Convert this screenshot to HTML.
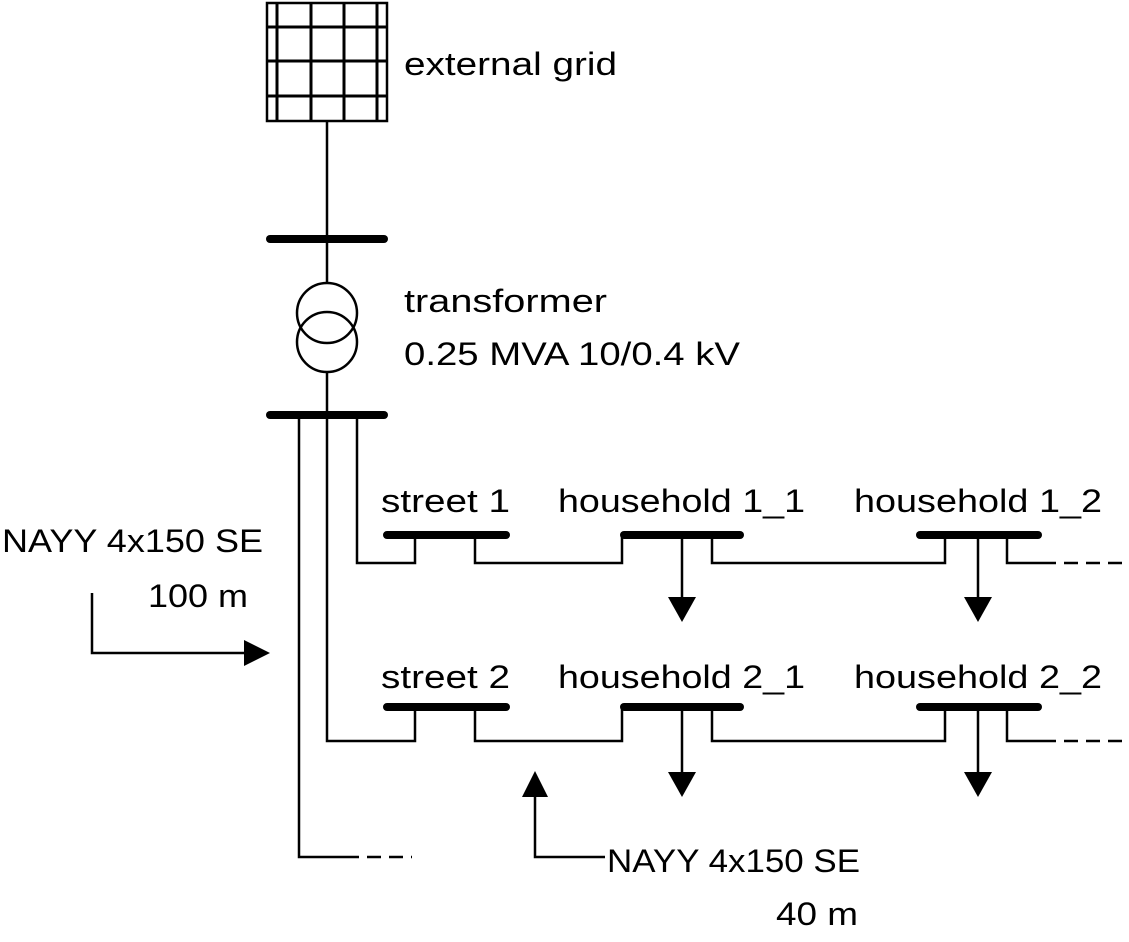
<!DOCTYPE html>
<html><head><meta charset="utf-8"><style>html,body{margin:0;padding:0;background:#fff}svg{display:block}</style></head>
<body>
<svg width="1129" height="942" viewBox="0 0 1129 942" xmlns="http://www.w3.org/2000/svg" font-family="Liberation Sans, sans-serif" font-size="32" fill="#000">
<g stroke="#000" fill="none">
<rect x="267" y="3" width="120" height="118" stroke-width="2.5"/>
<g stroke-width="3">
<line x1="277" y1="3" x2="277" y2="121"/><line x1="311" y1="3" x2="311" y2="121"/><line x1="344" y1="3" x2="344" y2="121"/><line x1="377" y1="3" x2="377" y2="121"/>
<line x1="267" y1="27" x2="387" y2="27"/><line x1="267" y1="61" x2="387" y2="61"/><line x1="267" y1="96" x2="387" y2="96"/>
</g>
<g stroke-width="2.5">
<line x1="327" y1="121" x2="327" y2="283"/>
<circle cx="327" cy="313" r="30"/><circle cx="327" cy="342" r="30"/>
<line x1="327" y1="372" x2="327" y2="415"/>
<polyline points="357,415 357,563 415,563 415,535"/>
<polyline points="475,535 475,563 622,563 622,535"/>
<line x1="682" y1="535" x2="682" y2="600"/>
<polyline points="712,535 712,563 945,563 945,535"/>
<line x1="978" y1="535" x2="978" y2="600"/>
<polyline points="1007,535 1007,563 1042,563"/>
<line x1="1042" y1="563" x2="1125" y2="563" stroke-dasharray="14,8"/>
<polyline points="327,415 327,741 415,741 415,707"/>
<polyline points="475,707 475,741 622,741 622,707"/>
<line x1="682" y1="707" x2="682" y2="775"/>
<polyline points="712,707 712,741 945,741 945,707"/>
<line x1="978" y1="707" x2="978" y2="775"/>
<polyline points="1007,707 1007,741 1042,741"/>
<line x1="1042" y1="741" x2="1125" y2="741" stroke-dasharray="14,8"/>
<polyline points="299,415 299,857 345,857"/>
<line x1="345" y1="857" x2="412" y2="857" stroke-dasharray="14,8"/>
<polyline points="92,593 92,653 245,653"/>
<polyline points="605,857 535,857 535,795"/>
</g>
<g stroke-width="8" stroke-linecap="round">
<line x1="270" y1="239" x2="384" y2="239"/>
<line x1="270" y1="415" x2="384" y2="415"/>
<line x1="387" y1="535" x2="506" y2="535"/>
<line x1="624" y1="535" x2="740" y2="535"/>
<line x1="920" y1="535" x2="1038" y2="535"/>
<line x1="387" y1="707" x2="506" y2="707"/>
<line x1="624" y1="707" x2="740" y2="707"/>
<line x1="920" y1="707" x2="1038" y2="707"/>
</g>
</g>
<polygon points="668,597 696,597 682,622"/>
<polygon points="964,597 992,597 978,622"/>
<polygon points="668,772 696,772 682,797"/>
<polygon points="964,772 992,772 978,797"/>
<polygon points="244,640 270,653 244,666"/>
<polygon points="522,797 548,797 535,771"/>
<text x="404" y="75" textLength="213" lengthAdjust="spacingAndGlyphs">external grid</text>
<text x="404" y="312" textLength="203" lengthAdjust="spacingAndGlyphs">transformer</text>
<text x="404" y="365" textLength="336" lengthAdjust="spacingAndGlyphs">0.25 MVA 10/0.4 kV</text>
<text x="381" y="512" textLength="129" lengthAdjust="spacingAndGlyphs">street 1</text>
<text x="558" y="512" textLength="247" lengthAdjust="spacingAndGlyphs">household 1_1</text>
<text x="854" y="512" textLength="248" lengthAdjust="spacingAndGlyphs">household 1_2</text>
<text x="381" y="688" textLength="129" lengthAdjust="spacingAndGlyphs">street 2</text>
<text x="558" y="688" textLength="247" lengthAdjust="spacingAndGlyphs">household 2_1</text>
<text x="854" y="688" textLength="248" lengthAdjust="spacingAndGlyphs">household 2_2</text>
<text x="2" y="552" textLength="261" lengthAdjust="spacingAndGlyphs">NAYY 4x150 SE</text>
<text x="148" y="607" textLength="100" lengthAdjust="spacingAndGlyphs">100 m</text>
<text x="607" y="872" textLength="253" lengthAdjust="spacingAndGlyphs">NAYY 4x150 SE</text>
<text x="776" y="925" textLength="82" lengthAdjust="spacingAndGlyphs">40 m</text>
</svg>
</body></html>
